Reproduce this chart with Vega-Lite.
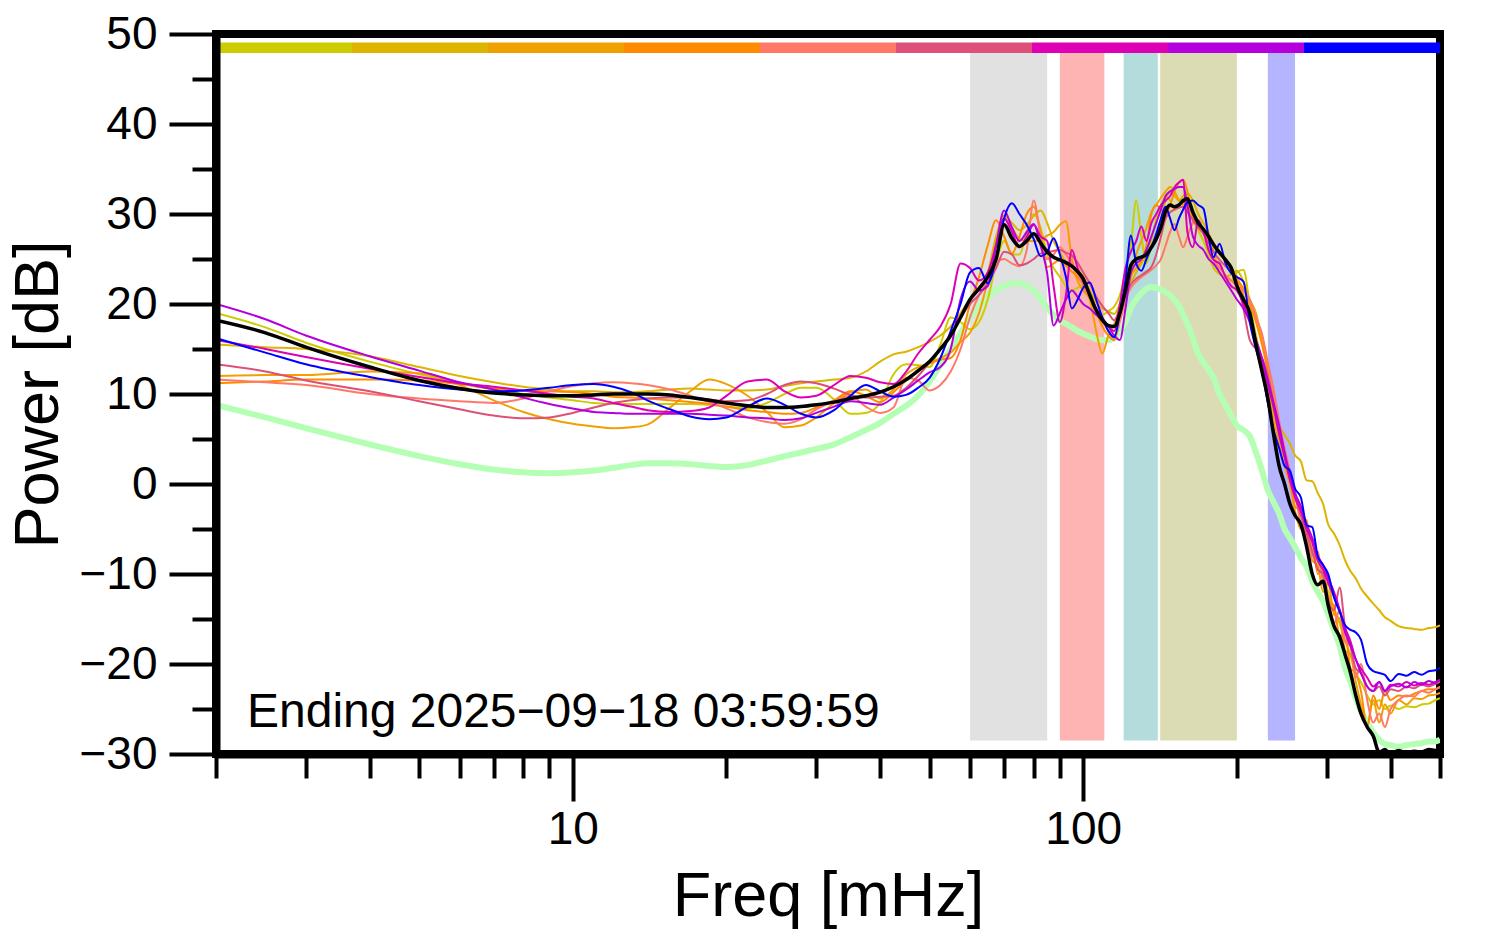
{
"$schema": "https://vega.github.io/schema/vega-lite/v6.json",
"width": 1224, "height": 720,
"autosize": {"type": "none"},
"padding": {"left": 216, "top": 34, "right": 54, "bottom": 198},
"background": "white",
"config": {"font": "Liberation Sans", "view": {"stroke": "black", "strokeWidth": 8}},
"datasets": {
"spec": [
{"f":2,"A":19.0,"B":15.5,"C":12.0,"D":11.2,"E":11.6,"F":13.3,"G":16.0,"H":20.0,"I":16.2,"K":18.2,"L":8.8},
{"f":2.5,"A":17.4,"B":15.2,"C":12.1,"D":11.4,"E":11.3,"F":12.5,"G":15.0,"H":18.3,"I":14.6,"K":16.8,"L":7.4},
{"f":3,"A":15.7,"B":15.0,"C":12.1,"D":11.6,"E":11.0,"F":11.5,"G":14.1,"H":16.5,"I":13.3,"K":15.2,"L":6.2},
{"f":4,"A":13.6,"B":14.2,"C":12.5,"D":11.6,"E":10.0,"F":10.3,"G":12.8,"H":14.2,"I":11.9,"K":13.0,"L":4.4},
{"f":5,"A":12.2,"B":13.0,"C":12.3,"D":11.5,"E":9.5,"F":9.2,"G":11.9,"H":12.6,"I":11.0,"K":11.5,"L":3.1},
{"f":6,"A":11.2,"B":12.0,"C":11.0,"D":11.1,"E":9.2,"F":8.3,"G":11.2,"H":11.3,"I":10.5,"K":10.6,"L":2.2},
{"f":7,"A":10.5,"B":11.3,"C":9.3,"D":10.6,"E":9.0,"F":7.6,"G":10.8,"H":10.5,"I":10.3,"K":10.1,"L":1.6},
{"f":8,"A":10.0,"B":10.8,"C":8.0,"D":10.4,"E":9.5,"F":7.3,"G":10.4,"H":9.6,"I":10.4,"K":9.9,"L":1.3},
{"f":9,"A":9.6,"B":10.5,"C":7.2,"D":10.3,"E":10.3,"F":7.4,"G":10.0,"H":8.9,"I":10.7,"K":9.8,"L":1.2},
{"f":10,"A":9.3,"B":10.3,"C":6.7,"D":10.2,"E":10.9,"F":7.9,"G":9.7,"H":8.4,"I":11.0,"K":9.8,"L":1.3},
{"f":11,"A":9.0,"B":10.3,"C":6.4,"D":10.0,"E":11.2,"F":8.5,"G":9.5,"H":8.0,"I":11.1,"K":9.9,"L":1.5},
{"f":12,"A":8.9,"B":10.2,"C":6.2,"D":9.7,"E":11.3,"F":9.0,"G":9.0,"H":7.9,"I":10.8,"K":10.0,"L":1.8},
{"f":13,"A":8.9,"B":10.2,"C":6.3,"D":9.6,"E":11.2,"F":9.3,"G":8.6,"H":7.8,"I":10.2,"K":10.0,"L":2.1},
{"f":14,"A":8.9,"B":10.3,"C":6.6,"D":9.5,"E":11.0,"F":9.5,"G":8.2,"H":7.8,"I":9.3,"K":10.0,"L":2.3},
{"f":15.5,"A":8.9,"B":10.5,"C":8.5,"D":9.3,"E":10.5,"F":9.6,"G":8.0,"H":7.8,"I":8.3,"K":9.9,"L":2.3},
{"f":17,"A":8.9,"B":10.6,"C":10.3,"D":9.1,"E":9.8,"F":9.6,"G":8.1,"H":7.8,"I":7.5,"K":9.6,"L":2.2},
{"f":18.5,"A":8.8,"B":10.5,"C":11.6,"D":8.9,"E":9.1,"F":9.4,"G":8.5,"H":7.7,"I":7.2,"K":9.3,"L":2.0},
{"f":20,"A":8.6,"B":10.4,"C":11.1,"D":8.6,"E":8.4,"F":9.2,"G":9.8,"H":7.6,"I":7.4,"K":9.0,"L":1.9},
{"f":22,"A":8.4,"B":10.4,"C":9.8,"D":8.2,"E":7.4,"F":9.3,"G":11.4,"H":7.4,"I":8.6,"K":8.7,"L":2.1},
{"f":24,"A":9.0,"B":10.5,"C":8.0,"D":8.0,"E":6.9,"F":10.0,"G":11.6,"H":7.3,"I":9.5,"K":8.5,"L":2.6},
{"f":26,"A":10.0,"B":10.9,"C":6.3,"D":7.8,"E":6.7,"F":11.0,"G":10.3,"H":7.1,"I":8.8,"K":8.5,"L":3.1},
{"f":28,"A":10.7,"B":11.2,"C":6.5,"D":7.9,"E":7.2,"F":11.4,"G":9.6,"H":7.3,"I":7.8,"K":8.6,"L":3.5},
{"f":30,"A":10.7,"B":11.4,"C":7.4,"D":8.5,"E":8.3,"F":11.2,"G":9.8,"H":7.9,"I":7.4,"K":8.8,"L":3.9},
{"f":32.5,"A":9.4,"B":11.6,"C":9.0,"D":9.3,"E":9.2,"F":10.6,"G":11.0,"H":8.6,"I":8.2,"K":9.1,"L":4.4},
{"f":35,"A":7.8,"B":11.8,"C":10.2,"D":10.3,"E":9.8,"F":9.9,"G":12.0,"H":9.2,"I":9.8,"K":9.5,"L":5.2},
{"f":37.5,"A":7.9,"B":12.5,"C":10.5,"D":9.8,"E":8.6,"F":9.6,"G":11.8,"H":9.0,"I":11.0,"K":9.8,"L":6.0},
{"f":40,"A":9.0,"B":13.6,"C":9.5,"D":9.1,"E":7.9,"F":9.7,"G":11.3,"H":8.8,"I":10.3,"K":10.2,"L":6.8},
{"f":42.5,"A":12.2,"B":14.4,"C":10.5,"D":10.2,"E":8.5,"F":9.8,"G":11.1,"H":9.6,"I":9.7,"K":10.8,"L":7.8},
{"f":45,"A":13.3,"B":14.7,"C":12.2,"D":11.5,"E":11.8,"F":10.7,"G":12.5,"H":10.5,"I":9.9,"K":11.6,"L":8.7},
{"f":47.5,"A":13.2,"B":15.2,"C":13.0,"D":12.5,"E":11.5,"F":12.0,"G":14.5,"H":11.5,"I":10.7,"K":12.6,"L":9.8},
{"f":50,"A":13.0,"B":15.8,"C":13.4,"D":13.4,"E":10.4,"F":13.5,"G":16.0,"H":12.4,"I":11.8,"K":13.6,"L":11.4},
{"f":52.5,"A":15.5,"B":16.5,"C":14.0,"D":13.8,"E":11.0,"F":15.0,"G":17.5,"H":13.0,"I":14.0,"K":15.0,"L":13.2},
{"f":55,"A":18.5,"B":17.5,"C":14.6,"D":14.0,"E":12.5,"F":16.5,"G":20.0,"H":15.0,"I":17.0,"K":16.5,"L":15.0},
{"f":57.5,"A":18.0,"B":19.0,"C":15.8,"D":16.0,"E":15.0,"F":18.5,"G":24.5,"H":20.5,"I":20.0,"K":18.5,"L":16.8},
{"f":60,"A":17.2,"B":20.5,"C":16.8,"D":20.0,"E":18.5,"F":20.0,"G":24.0,"H":22.5,"I":23.5,"K":20.5,"L":18.5},
{"f":62.5,"A":18.0,"B":21.8,"C":19.0,"D":23.0,"E":21.0,"F":21.0,"G":22.6,"H":21.5,"I":24.0,"K":21.7,"L":19.8},
{"f":65,"A":20.5,"B":23.5,"C":22.6,"D":26.5,"E":22.5,"F":22.3,"G":23.5,"H":22.0,"I":22.3,"K":23.0,"L":20.8},
{"f":67.5,"A":24.5,"B":27.5,"C":27.0,"D":29.3,"E":24.5,"F":24.0,"G":26.5,"H":26.5,"I":25.0,"K":25.0,"L":21.6},
{"f":70,"A":27.0,"B":29.8,"C":29.5,"D":27.5,"E":25.0,"F":25.8,"G":29.5,"H":30.4,"I":29.5,"K":28.8,"L":22.0},
{"f":72.5,"A":25.5,"B":29.0,"C":28.5,"D":25.6,"E":24.5,"F":25.5,"G":28.0,"H":28.5,"I":31.2,"K":27.3,"L":22.3},
{"f":75,"A":25.5,"B":28.2,"C":27.2,"D":27.5,"E":24.2,"F":24.3,"G":26.3,"H":27.0,"I":30.0,"K":26.4,"L":22.3},
{"f":77.5,"A":28.0,"B":28.8,"C":27.0,"D":30.0,"E":26.0,"F":24.5,"G":27.5,"H":28.0,"I":28.8,"K":27.0,"L":22.0},
{"f":80,"A":30.0,"B":29.8,"C":27.0,"D":30.8,"E":31.5,"F":25.0,"G":28.8,"H":28.9,"I":27.2,"K":27.8,"L":21.5},
{"f":82.5,"A":28.5,"B":30.4,"C":27.2,"D":28.0,"E":27.5,"F":25.6,"G":27.5,"H":26.5,"I":25.3,"K":26.8,"L":20.6},
{"f":85,"A":25.5,"B":29.0,"C":27.6,"D":24.1,"E":25.0,"F":25.7,"G":27.0,"H":23.4,"I":25.8,"K":25.8,"L":19.6},
{"f":87.5,"A":24.0,"B":27.0,"C":28.0,"D":24.5,"E":25.5,"F":25.9,"G":22.0,"H":17.6,"I":27.3,"K":25.2,"L":18.8},
{"f":90,"A":23.0,"B":25.8,"C":28.8,"D":24.9,"E":26.3,"F":26.0,"G":18.0,"H":19.0,"I":25.5,"K":24.9,"L":18.2},
{"f":92.5,"A":22.0,"B":24.6,"C":29.2,"D":24.3,"E":25.5,"F":25.7,"G":21.0,"H":20.5,"I":23.0,"K":24.6,"L":17.8},
{"f":95,"A":21.5,"B":24.2,"C":25.0,"D":23.6,"E":24.5,"F":25.4,"G":26.0,"H":21.5,"I":19.5,"K":24.2,"L":17.4},
{"f":97.5,"A":21.8,"B":23.8,"C":22.6,"D":23.0,"E":23.5,"F":24.6,"G":24.0,"H":20.8,"I":20.5,"K":23.6,"L":17.0},
{"f":100,"A":22.0,"B":23.0,"C":21.5,"D":22.2,"E":22.0,"F":23.5,"G":22.5,"H":20.0,"I":21.8,"K":22.8,"L":16.7},
{"f":103,"A":21.2,"B":21.5,"C":20.5,"D":21.2,"E":20.8,"F":22.3,"G":21.0,"H":19.5,"I":22.4,"K":21.0,"L":16.4},
{"f":106,"A":19.5,"B":20.2,"C":17.0,"D":19.2,"E":19.5,"F":20.8,"G":19.5,"H":18.8,"I":20.5,"K":19.3,"L":16.1},
{"f":109,"A":18.8,"B":19.5,"C":14.5,"D":17.5,"E":18.2,"F":19.8,"G":18.5,"H":18.2,"I":18.5,"K":18.2,"L":16.0},
{"f":112,"A":19.2,"B":19.2,"C":16.5,"D":16.5,"E":17.0,"F":19.0,"G":17.5,"H":17.5,"I":17.0,"K":17.6,"L":16.0},
{"f":115,"A":19.7,"B":18.9,"C":17.8,"D":16.0,"E":16.3,"F":18.2,"G":17.0,"H":16.5,"I":16.3,"K":17.5,"L":16.2},
{"f":118,"A":21.0,"B":20.0,"C":19.5,"D":18.5,"E":18.0,"F":19.5,"G":20.0,"H":16.0,"I":19.0,"K":19.0,"L":17.0},
{"f":121,"A":23.5,"B":21.5,"C":21.0,"D":22.0,"E":20.5,"F":21.0,"G":24.0,"H":19.5,"I":22.6,"K":21.5,"L":18.0},
{"f":124,"A":26.5,"B":22.4,"C":23.0,"D":23.2,"E":21.8,"F":22.2,"G":25.8,"H":23.5,"I":27.6,"K":24.3,"L":19.6},
{"f":127,"A":31.5,"B":23.5,"C":25.5,"D":24.0,"E":22.5,"F":22.8,"G":27.0,"H":24.5,"I":24.5,"K":25.0,"L":20.5},
{"f":130,"A":27.5,"B":24.5,"C":27.0,"D":24.8,"E":23.0,"F":23.2,"G":28.6,"H":25.0,"I":23.7,"K":25.2,"L":21.2},
{"f":133,"A":24.5,"B":25.5,"C":28.5,"D":26.5,"E":23.4,"F":23.6,"G":27.0,"H":26.0,"I":25.0,"K":25.5,"L":21.7},
{"f":136,"A":27.0,"B":26.3,"C":30.2,"D":30.0,"E":23.8,"F":24.1,"G":29.0,"H":27.5,"I":26.3,"K":26.3,"L":21.9},
{"f":139,"A":29.5,"B":27.5,"C":31.0,"D":31.0,"E":24.3,"F":25.5,"G":30.0,"H":29.0,"I":27.8,"K":27.2,"L":21.8},
{"f":142,"A":31.0,"B":29.5,"C":31.8,"D":30.5,"E":25.0,"F":27.5,"G":31.0,"H":30.5,"I":29.5,"K":28.5,"L":21.6},
{"f":145,"A":31.9,"B":31.5,"C":32.5,"D":30.0,"E":26.5,"F":29.5,"G":31.5,"H":32.0,"I":30.8,"K":30.3,"L":21.3},
{"f":148,"A":31.5,"B":32.6,"C":33.0,"D":31.0,"E":28.0,"F":30.2,"G":32.0,"H":32.5,"I":29.5,"K":31.0,"L":21.0},
{"f":151,"A":30.5,"B":32.0,"C":32.5,"D":32.5,"E":28.9,"F":30.5,"G":33.0,"H":32.8,"I":28.2,"K":30.8,"L":20.4},
{"f":154,"A":31.0,"B":31.5,"C":31.5,"D":33.5,"E":27.5,"F":30.7,"G":33.5,"H":33.0,"I":29.5,"K":31.0,"L":19.8},
{"f":157,"A":31.2,"B":32.0,"C":31.0,"D":33.8,"E":26.3,"F":30.8,"G":33.8,"H":33.0,"I":30.5,"K":31.5,"L":18.8},
{"f":160,"A":30.8,"B":32.3,"C":30.8,"D":32.5,"E":27.5,"F":30.2,"G":28.0,"H":31.0,"I":31.3,"K":31.7,"L":17.8},
{"f":164,"A":29.5,"B":31.5,"C":30.0,"D":29.5,"E":29.0,"F":29.3,"G":26.3,"H":27.5,"I":31.5,"K":30.2,"L":16.2},
{"f":168,"A":28.2,"B":30.0,"C":29.0,"D":28.8,"E":29.3,"F":28.5,"G":29.3,"H":26.5,"I":31.0,"K":29.0,"L":14.5},
{"f":172,"A":27.0,"B":29.0,"C":28.2,"D":28.0,"E":28.0,"F":27.8,"G":28.0,"H":26.0,"I":30.6,"K":28.3,"L":13.5},
{"f":176,"A":25.5,"B":28.0,"C":27.6,"D":27.2,"E":26.5,"F":26.8,"G":26.0,"H":25.0,"I":27.5,"K":27.5,"L":12.7},
{"f":180,"A":24.0,"B":26.0,"C":26.8,"D":26.5,"E":25.0,"F":25.8,"G":24.9,"H":24.5,"I":25.2,"K":26.6,"L":11.8},
{"f":185,"A":23.3,"B":23.5,"C":25.8,"D":25.8,"E":24.0,"F":24.9,"G":24.5,"H":23.5,"I":26.7,"K":25.7,"L":10.0},
{"f":190,"A":23.0,"B":23.0,"C":25.0,"D":24.8,"E":23.2,"F":24.2,"G":23.0,"H":22.5,"I":24.5,"K":24.9,"L":8.8},
{"f":195,"A":22.6,"B":23.3,"C":24.0,"D":23.8,"E":22.6,"F":23.6,"G":22.0,"H":21.5,"I":23.4,"K":24.0,"L":7.6},
{"f":200,"A":23.5,"B":23.7,"C":23.0,"D":22.8,"E":22.0,"F":22.5,"G":21.5,"H":20.5,"I":23.0,"K":22.0,"L":6.5},
{"f":206,"A":23.8,"B":22.5,"C":21.0,"D":21.7,"E":21.5,"F":19.5,"G":20.0,"H":19.5,"I":22.5,"K":20.5,"L":6.0},
{"f":212,"A":20.0,"B":20.5,"C":18.0,"D":20.0,"E":20.5,"F":16.0,"G":18.2,"H":18.0,"I":18.0,"K":19.0,"L":5.3},
{"f":218,"A":16.5,"B":19.0,"C":16.0,"D":18.0,"E":18.5,"F":15.0,"G":16.0,"H":16.0,"I":15.0,"K":15.5,"L":3.5},
{"f":224,"A":13.5,"B":16.0,"C":13.0,"D":15.5,"E":16.7,"F":14.0,"G":13.4,"H":14.0,"I":12.5,"K":12.5,"L":1.5},
{"f":230,"A":10.5,"B":13.0,"C":10.5,"D":12.5,"E":13.5,"F":12.0,"G":11.0,"H":11.5,"I":9.0,"K":9.5,"L":-0.7},
{"f":236,"A":8.0,"B":8.5,"C":7.0,"D":9.5,"E":10.5,"F":9.0,"G":8.5,"H":9.0,"I":6.0,"K":5.5,"L":-2.0},
{"f":242,"A":5.5,"B":6.5,"C":4.5,"D":6.0,"E":7.0,"F":6.0,"G":5.5,"H":6.5,"I":4.0,"K":2.0,"L":-3.3},
{"f":248,"A":3.0,"B":5.5,"C":2.0,"D":3.0,"E":4.0,"F":3.5,"G":3.0,"H":3.5,"I":2.0,"K":0.0,"L":-5.0},
{"f":254,"A":0.5,"B":4.5,"C":0.0,"D":1.0,"E":1.5,"F":0.5,"G":0.5,"H":1.0,"I":1.5,"K":-2.2,"L":-6.0},
{"f":260,"A":-1.0,"B":3.2,"C":-3.0,"D":-2.5,"E":-1.0,"F":-1.5,"G":-1.5,"H":-1.0,"I":-0.5,"K":-3.5,"L":-7.0},
{"f":267,"A":-3.5,"B":2.5,"C":-5.0,"D":-3.0,"E":-4.5,"F":-3.5,"G":-3.0,"H":-2.5,"I":-1.5,"K":-4.5,"L":-8.2},
{"f":274,"A":-5.5,"B":0.4,"C":-4.0,"D":-6.5,"E":-6.0,"F":-5.5,"G":-5.0,"H":-4.5,"I":-4.6,"K":-7.0,"L":-9.2},
{"f":281,"A":-7.0,"B":0.3,"C":-8.5,"D":-6.0,"E":-8.0,"F":-7.5,"G":-6.5,"H":-6.0,"I":-4.8,"K":-10.0,"L":-10.8},
{"f":288,"A":-8.5,"B":-1.0,"C":-9.0,"D":-10.0,"E":-7.5,"F":-9.5,"G":-8.5,"H":-8.0,"I":-8.0,"K":-11.2,"L":-12.0},
{"f":295,"A":-10.0,"B":-2.2,"C":-12.0,"D":-9.5,"E":-11.0,"F":-10.0,"G":-9.5,"H":-9.0,"I":-9.0,"K":-10.8,"L":-13.0},
{"f":302,"A":-12.0,"B":-4.5,"C":-11.0,"D":-13.0,"E":-12.5,"F":-13.0,"G":-11.0,"H":-10.5,"I":-10.0,"K":-13.5,"L":-14.5},
{"f":310,"A":-14.0,"B":-5.5,"C":-14.5,"D":-13.5,"E":-15.5,"F":-14.0,"G":-12.5,"H":-12.0,"I":-12.6,"K":-15.8,"L":-16.3},
{"f":318,"A":-15.5,"B":-6.8,"C":-15.0,"D":-17.0,"E":-14.0,"F":-11.5,"G":-14.0,"H":-14.0,"I":-14.2,"K":-17.0,"L":-18.0},
{"f":326,"A":-17.5,"B":-8.5,"C":-18.5,"D":-16.5,"E":-17.5,"F":-16.0,"G":-16.0,"H":-16.5,"I":-15.7,"K":-19.0,"L":-20.5},
{"f":334,"A":-19.0,"B":-9.7,"C":-19.0,"D":-20.5,"E":-18.0,"F":-18.0,"G":-17.5,"H":-18.0,"I":-16.2,"K":-21.0,"L":-22.0},
{"f":342,"A":-21.0,"B":-10.5,"C":-22.0,"D":-21.0,"E":-21.5,"F":-20.5,"G":-19.5,"H":-19.5,"I":-16.5,"K":-23.5,"L":-23.8},
{"f":350,"A":-22.0,"B":-11.6,"C":-24.5,"D":-23.0,"E":-20.0,"F":-21.0,"G":-20.5,"H":-21.0,"I":-17.3,"K":-25.5,"L":-25.2},
{"f":360,"A":-23.5,"B":-12.5,"C":-26.8,"D":-27.0,"E":-24.0,"F":-22.5,"G":-21.5,"H":-22.5,"I":-20.0,"K":-27.0,"L":-26.5},
{"f":370,"A":-24.5,"B":-13.3,"C":-24.0,"D":-23.5,"E":-26.5,"F":-23.0,"G":-22.5,"H":-23.0,"I":-20.8,"K":-28.0,"L":-27.6},
{"f":380,"A":-24.0,"B":-14.0,"C":-26.5,"D":-25.0,"E":-25.5,"F":-22.5,"G":-22.0,"H":-22.0,"I":-21.0,"K":-29.8,"L":-28.4},
{"f":390,"A":-25.0,"B":-14.8,"C":-24.5,"D":-23.0,"E":-27.0,"F":-23.5,"G":-23.0,"H":-23.0,"I":-21.2,"K":-29.5,"L":-28.9},
{"f":400,"A":-24.6,"B":-15.2,"C":-25.5,"D":-24.0,"E":-25.0,"F":-22.8,"G":-22.3,"H":-22.5,"I":-21.9,"K":-30.0,"L":-29.0},
{"f":415,"A":-25.0,"B":-15.8,"C":-24.0,"D":-23.5,"E":-24.0,"F":-23.0,"G":-22.5,"H":-22.2,"I":-21.1,"K":-29.6,"L":-29.2},
{"f":430,"A":-24.7,"B":-16.0,"C":-24.5,"D":-23.6,"E":-23.5,"F":-22.5,"G":-22.0,"H":-22.6,"I":-21.3,"K":-29.9,"L":-29.0},
{"f":445,"A":-24.8,"B":-16.1,"C":-23.8,"D":-23.3,"E":-23.6,"F":-22.7,"G":-22.4,"H":-22.0,"I":-20.9,"K":-29.7,"L":-28.9},
{"f":460,"A":-24.5,"B":-16.2,"C":-23.9,"D":-23.0,"E":-23.0,"F":-22.3,"G":-22.1,"H":-22.3,"I":-21.2,"K":-29.8,"L":-28.8},
{"f":475,"A":-24.4,"B":-16.0,"C":-23.5,"D":-22.8,"E":-23.2,"F":-22.5,"G":-22.3,"H":-21.9,"I":-20.8,"K":-29.5,"L":-28.6},
{"f":490,"A":-24.0,"B":-15.9,"C":-23.4,"D":-22.8,"E":-22.8,"F":-22.2,"G":-22.0,"H":-22.1,"I":-20.7,"K":-29.6,"L":-28.6},
{"f":500,"A":-23.8,"B":-15.7,"C":-23.2,"D":-22.5,"E":-22.6,"F":-22.0,"G":-21.8,"H":-21.7,"I":-20.4,"K":-29.4,"L":-28.4}
],
"bands": [
{"lo":60,"hi":85,"band":"b1"},
{"lo":90,"hi":110,"band":"b2"},
{"lo":120,"hi":140,"band":"b3"},
{"lo":141.5,"hi":200,"band":"b4"},
{"lo":230,"hi":260,"band":"b5"}
],
"bar": [
{"lo":2,"hi":3.694,"s":"A"},
{"lo":3.694,"hi":6.822,"s":"B"},
{"lo":6.822,"hi":12.6,"s":"C"},
{"lo":12.6,"hi":23.27,"s":"D"},
{"lo":23.27,"hi":42.979,"s":"E"},
{"lo":42.979,"hi":79.378,"s":"F"},
{"lo":79.378,"hi":146.603,"s":"G"},
{"lo":146.603,"hi":270.762,"s":"H"},
{"lo":270.762,"hi":500,"s":"I"}
]
},
"layer": [
{
"data": {"name": "bands"},
"mark": {"type": "rect"},
"encoding": {
"x": {"field": "lo", "type": "quantitative", "scale": {"type": "log", "domain": [2, 500], "nice": false}},
"x2": {"field": "hi"},
"y": {"datum": -28.5, "type": "quantitative", "scale": {"domain": [-30, 50], "nice": false, "zero": false}},
"y2": {"datum": 47.9},
"fill": {"field": "band", "type": "nominal", "scale": {"domain": ["b1","b2","b3","b4","b5"], "range": ["#e1e1e1","#ffb4b4","#b4dcdc","#dcdcb4","#b4b4ff"]}, "legend": null}
}
},
{
"data": {"name": "bar"},
"mark": {"type": "rect"},
"encoding": {
"x": {"field": "lo", "type": "quantitative"},
"x2": {"field": "hi"},
"y": {"datum": 47.9, "type": "quantitative"},
"y2": {"datum": 49.05},
"color": {"field": "s", "type": "nominal", "scale": {"domain": ["A","B","C","D","E","F","G","H","I"], "range": ["#cccc00","#ddb400","#f0a000","#ff8c00","#ff7868","#dd5078","#dd00b4","#b400dd","#0000ff"]}, "legend": null}
}
},
{
"data": {"name": "spec"},
"mark": {"type": "line", "color": "#b4ffb4", "strokeWidth": 6, "interpolate": "monotone", "clip": true},
"encoding": {
"x": {"field": "f", "type": "quantitative"},
"y": {"field": "L", "type": "quantitative"}
}
},
{
"data": {"name": "spec"},
"transform": [{"fold": ["A","B","C","D","E","F","G","H","I"], "as": ["s", "v"]}],
"mark": {"type": "line", "strokeWidth": 2, "interpolate": "monotone", "clip": true},
"encoding": {
"x": {"field": "f", "type": "quantitative",
"axis": {"values": [2,3,4,5,6,7,8,9,10,20,30,40,50,60,70,80,90,100,200,300,400,500],
"title": "Freq [mHz]", "grid": false, "domainColor": "black", "domainWidth": 8,
"tickColor": "black", "tickWidth": 4,
"tickSize": {"condition": {"test": "datum.value === 10 || datum.value === 100", "value": 47}, "value": 24},
"labelExpr": "datum.value === 10 || datum.value === 100 ? toString(datum.value) : ''",
"labelFontSize": 46, "labelColor": "black", "labelPadding": 6, "labelFlush": false, "labelOverlap": false, "labelBound": false,
"titleFontSize": 63, "titleFontWeight": "normal", "titleColor": "black", "titlePadding": 13, "zindex": 1}},
"y": {"field": "v", "type": "quantitative",
"axis": {"values": [-30,-25,-20,-15,-10,-5,0,5,10,15,20,25,30,35,40,45,50],
"title": "Power [dB]", "grid": false, "domainColor": "black", "domainWidth": 8,
"tickColor": "black", "tickWidth": 4,
"tickSize": {"condition": {"test": "datum.value % 10 === 0", "value": 47}, "value": 24},
"labelExpr": "datum.value % 10 === 0 ? (datum.value < 0 ? '−' + toString(abs(datum.value)) : toString(datum.value)) : ''",
"labelFontSize": 46, "labelColor": "black", "labelPadding": 12, "labelFlush": false, "labelOverlap": false, "labelBound": false,
"titleFontSize": 63, "titleFontWeight": "normal", "titleColor": "black", "titlePadding": 8, "zindex": 1}},
"color": {"field": "s", "type": "nominal", "legend": null}
}
},
{
"data": {"name": "spec"},
"mark": {"type": "line", "color": "black", "strokeWidth": 3.5, "interpolate": "monotone", "clip": true},
"encoding": {
"x": {"field": "f", "type": "quantitative"},
"y": {"field": "K", "type": "quantitative"}
}
},
{
"data": {"values": [{}]},
"mark": {"type": "text", "align": "left", "baseline": "alphabetic", "fontSize": 48, "color": "black"},
"encoding": {
"x": {"datum": 2.3, "type": "quantitative"},
"y": {"datum": -27, "type": "quantitative"},
"text": {"value": "Ending 2025−09−18 03:59:59"}
}
}
]
}
